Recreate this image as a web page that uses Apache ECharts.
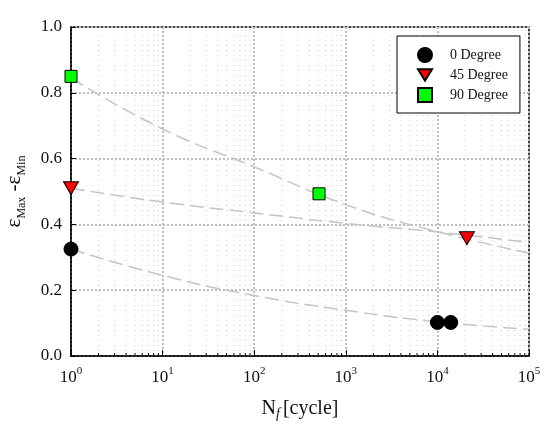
<!DOCTYPE html>
<html>
<head>
<meta charset="utf-8">
<script src="https://cdn.jsdelivr.net/npm/echarts@6/dist/echarts.min.js"></script>
<style>html,body{margin:0;padding:0;background:#fff}#c{width:558px;height:432px}</style>
</head>
<body>
<div id="c"></div>
<script>
// ---- data ----
const deg0N = [1, 10000, 14000];
const deg0V = [0.325, 0.102, 0.102];
const deg45N = [1, 21000];
const deg45V = [0.51, 0.358];
const deg90N = [1, 510];
const deg90V = [0.85, 0.493];
// dashed trend lines, read at each decade
const fitN = [1, 10, 100, 1000, 10000, 100000];
const fit0 = [0.325, 0.245, 0.184, 0.139, 0.104, 0.081];
const fit45 = [0.51, 0.468, 0.435, 0.403, 0.377, 0.345];
const fit90 = [0.845, 0.69, 0.575, 0.46, 0.378, 0.313];
// axis ticks
const decades = [1, 10, 100, 1000, 10000];
const minorMult = [2, 3, 4, 5, 6, 7, 8, 9];
const yTicks = ['0.0', '0.2', '0.4', '0.6', '0.8', '1.0'];
const seriesNames = ['0 Degree', '45 Degree', '90 Degree'];

const minorTicks = [];
decades.forEach(d => minorMult.forEach(m => minorTicks.push([d * m, 0])));
const pairs = (xs, ys) => xs.map((x, i) => [x, ys[i]]);

const FONT = 'Liberation Serif';
const chart = echarts.init(document.getElementById('c'), null, {renderer: 'canvas'});
const dashed = {color: '#c4c4c4', width: 1.5, type: [14, 6]};
const downTri = 'path://M0,0 L16,0 L8,13 Z';

chart.setOption({
  animation: false,
  backgroundColor: '#fff',
  textStyle: {fontFamily: FONT, color: '#111'},
  grid: {left: 71, right: 29, top: 27, bottom: 76, outerBoundsMode: 'none', containLabel: false,
    show: true, borderColor: '#000', borderWidth: 1.5, backgroundColor: 'transparent'},
  legend: {
    data: [
      {name: seriesNames[0], icon: 'circle'},
      {name: seriesNames[1], icon: downTri},
      {name: seriesNames[2], icon: 'rect'}
    ],
    orient: 'vertical',
    left: 397, top: 36,
    backgroundColor: '#fff',
    borderColor: '#000', borderWidth: 1, borderRadius: 0,
    padding: [11, 12, 10, 20],
    itemWidth: 14, itemHeight: 14, itemGap: 5,
    formatter: name => '{a|' + name + '}',
    textStyle: {fontFamily: FONT, fontSize: 14, color: '#111',
      rich: {a: {fontFamily: FONT, fontSize: 14, color: '#111', padding: [0, 0, 0, 13]}}}
  },
  xAxis: {
    type: 'log', logBase: 10, min: 1, max: 100000,
    name: '{n|N}{f|f}{n|[cycle]}',
    nameLocation: 'middle', nameGap: 43,
    nameTextStyle: {
      rich: {
        n: {fontFamily: FONT, fontSize: 20, color: '#111', lineHeight: 22, verticalAlign: 'top'},
        f: {fontFamily: FONT, fontSize: 14, fontStyle: 'italic', color: '#111', lineHeight: 14, verticalAlign: 'bottom', padding: [0, 3, 0, 0]}
      }
    },
    axisLine: {show: true, onZero: false, lineStyle: {color: '#000', width: 1.5}},
    axisTick: {show: true, inside: true, length: 6, lineStyle: {color: '#000', width: 1}},
    minorTick: {show: false},
    axisLabel: {
      margin: 10,
      formatter: v => '{b|10}{s|' + Math.round(Math.log10(v)) + '}',
      rich: {
        b: {fontFamily: FONT, fontSize: 17, color: '#111', lineHeight: 20, verticalAlign: 'bottom'},
        s: {fontFamily: FONT, fontSize: 11, color: '#111', lineHeight: 12, verticalAlign: 'top'}
      }
    },
    splitLine: {show: true, lineStyle: {color: '#bdbdbd', width: 2, type: [2, 2]}}
  },
  yAxis: {
    type: 'value', min: 0, max: 1, interval: 0.2,
    name: '{e|ε}{s|Max}{e| -ε}{s|Min}',
    nameLocation: 'middle', nameGap: 43, nameRotate: 90,
    nameTextStyle: {
      rich: {
        e: {fontFamily: FONT, fontSize: 21, color: '#111', lineHeight: 24, verticalAlign: 'top'},
        s: {fontFamily: FONT, fontSize: 12, color: '#111', lineHeight: 12, verticalAlign: 'bottom'}
      }
    },
    axisLine: {show: true, onZero: false, lineStyle: {color: '#000', width: 1.5}},
    axisTick: {show: true, inside: true, length: 5, lineStyle: {color: '#000', width: 1}},
    axisLabel: {
      margin: 9, fontFamily: FONT, fontSize: 17, color: '#111',
      formatter: v => yTicks[Math.round(v / 0.2)]
    },
    splitLine: {show: true, lineStyle: {color: '#bdbdbd', width: 2, type: [2, 2]}}
  },
  series: [
    {
      type: 'custom', silent: true, z: 1,
      data: minorTicks, encode: {x: 0, y: 1},
      renderItem: (params, api) => {
        const v = api.value(0);
        const bot = api.coord([v, 0]);
        const top = api.coord([v, 1]);
        return {type: 'group', children: [
          {type: 'line', shape: {x1: bot[0], y1: bot[1], x2: top[0], y2: top[1]}, style: {stroke: '#cccccc', lineWidth: 1, lineDash: [1, 4]}},
          {type: 'line', shape: {x1: bot[0], y1: bot[1], x2: bot[0], y2: bot[1] - 3}, style: {stroke: '#000', lineWidth: 1}}
        ]};
      }
    },
    {type: 'line', data: pairs(fitN, fit0), showSymbol: false, symbol: 'none', smooth: true, lineStyle: dashed, z: 2, silent: true},
    {type: 'line', data: pairs(fitN, fit45), showSymbol: false, symbol: 'none', smooth: true, lineStyle: dashed, z: 2, silent: true},
    {type: 'line', data: pairs(fitN, fit90), showSymbol: false, symbol: 'none', smooth: true, lineStyle: dashed, z: 2, silent: true},
    {name: seriesNames[0], type: 'scatter', data: pairs(deg0N, deg0V), symbol: 'circle', symbolSize: 14,
      itemStyle: {color: '#000', borderColor: '#000', borderWidth: 1, opacity: 1}, z: 5},
    {name: seriesNames[1], type: 'scatter', data: pairs(deg45N, deg45V), symbol: downTri, symbolSize: [15, 13],
      itemStyle: {color: '#ff0000', borderColor: '#000', borderWidth: 1, opacity: 1}, z: 5},
    {name: seriesNames[2], type: 'scatter', data: pairs(deg90N, deg90V), symbol: 'rect', symbolSize: 12,
      itemStyle: {color: '#00ff00', borderColor: '#000', borderWidth: 1, opacity: 1}, z: 5}
  ]
});
</script>
</body>
</html>
